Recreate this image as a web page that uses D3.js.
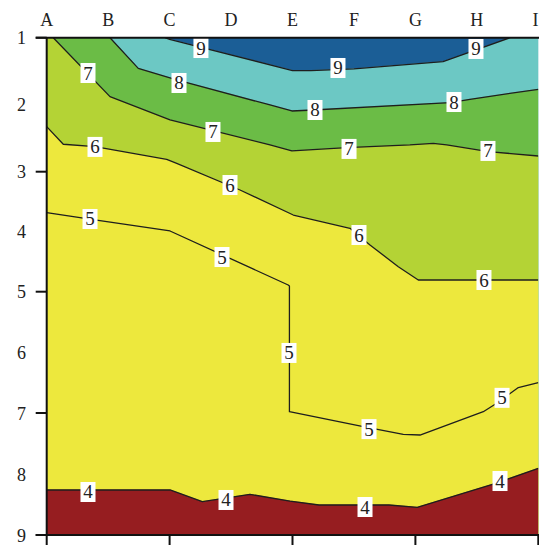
<!DOCTYPE html>
<html>
<head>
<meta charset="utf-8">
<script src="https://cdn.jsdelivr.net/npm/d3@7"></script>
<style>
  html, body { margin: 0; padding: 0; background: #fff; }
  svg { display: block; }
</style>
</head>
<body>
<svg id="chart" width="539" height="545"></svg>
<script>
// ---------- data ----------
const categories = ['A','B','C','D','E','F','G','H','I'];
const yLabels = [1,2,3,4,5,6,7,8,9];
const yTickValues = [1,3,5,7,9];
const xTickCategories = ['A','C','E','G','I'];

// contour lines: [category index (A=0), y value]
const contour9 = [[1.925,1],[2.0,1.024],[4.0,1.49],[4.3,1.49],[5,1.465],[6,1.39],[6.45,1.358],[7.54,1]];
const contour8 = [[1.03,1],[1.49,1.457],[2.115,1.631],[3.634,2.004],[3.99,2.094],[4.334,2.079],[6.563,1.97],[6.888,1.919],[8,1.77]];
const contour7 = [[0.107,1],[1.03,1.88],[2.007,2.228],[3.634,2.60],[3.99,2.69],[4.88,2.64],[5.91,2.60],[6.29,2.576],[6.51,2.60],[7.19,2.70],[8,2.766]];
const contour6 = [[0,2.328],[0.27,2.59],[0.786,2.627],[1.953,2.815],[2.116,2.875],[3.146,3.305],[4.013,3.722],[4.936,3.943],[5.261,4.222],[5.722,4.583],[6.047,4.805],[8,4.805]];
const contour5 = [[0,3.683],[0.867,3.817],[2.007,3.988],[3.93,4.888],[3.95,4.905],[3.95,6.979],[5.152,7.225],[5.803,7.35],[6.075,7.361],[7.105,6.979],[7.323,6.84],[7.675,6.58],[8,6.50]];
const contour4 = [[0,8.262],[2.007,8.262],[2.532,8.454],[3.308,8.333],[3.959,8.443],[4.431,8.508],[5.57,8.508],[6.03,8.546],[7.307,8.152],[8,7.906]];

const levels = [9,8,7,6,5,4];
const contourLines = [contour9, contour8, contour7, contour6, contour5, contour4];
const topColor = '#1b5e96';
const bandColors = ['#6cc8c4','#6bbc46','#b4d335','#ede83d','#ede83d','#961d20'];

// label positions [category index, y value]
const labels9 = [[2.51,1.154],[4.74,1.452],[6.986,1.168]];
const labels8 = [[2.153,1.676],[4.366,2.079],[6.628,1.96]];
const labels7 = [[0.672,1.527],[2.706,2.407],[4.92,2.66],[7.181,2.69]];
const labels6 = [[0.786,2.63],[2.983,3.222],[5.082,4.055],[7.116,4.805]];
const labels5 = [[0.705,3.788],[2.853,4.422],[3.943,6.01],[5.245,7.264],[7.41,6.75]];
const labels4 = [[0.672,8.295],[2.918,8.426],[5.18,8.541],[7.377,8.115]];
const contourLabels = [labels9, labels8, labels7, labels6, labels5, labels4];

(function () {
// ---------- layout ----------
const pL = 46.7, pR = 538.3, pT = 37.7, pB = 535;
const svg = d3.select('#chart');

const xBand = d3.scalePoint().domain(categories).range([pL, pR]);
const x = d3.scaleLinear().domain([0, categories.length - 1]).range([pL, pR]);
const y = d3.scaleLinear().domain([1,3,5,7,9]).range([pT, 171.7, 291.7, 413, pB]);

const defs = svg.append('defs');
defs.append('clipPath').attr('id','plotclip')
  .append('rect').attr('x', pL).attr('y', pT).attr('width', pR-pL).attr('height', pB-pT);

const plot = svg.append('g').attr('clip-path','url(#plotclip)');

plot.append('rect').attr('x', pL).attr('y', pT).attr('width', pR-pL).attr('height', pB-pT)
  .attr('fill', topColor);

const xMax = categories.length - 1, yMin = 1, yMax = 9;
function regionBelow(line) {
  const pts = [];
  const first = line[0], last = line[line.length-1];
  if (first[1] === yMin && first[0] > 0) pts.push([0, yMin]);
  line.forEach(p => pts.push(p));
  if (last[1] === yMin && last[0] < xMax) pts.push([xMax, yMin]);
  pts.push([xMax, yMax]);
  pts.push([0, yMax]);
  return pts;
}

const lineGen = d3.line().x(d => x(d[0])).y(d => y(d[1]));

contourLines.forEach((line, i) => {
  plot.append('path')
    .attr('d', lineGen(regionBelow(line)) + 'Z')
    .attr('fill', bandColors[i])
    .attr('stroke', bandColors[i])
    .attr('stroke-width', 0.5);
});

contourLines.forEach((line) => {
  plot.append('path')
    .attr('d', lineGen(line))
    .attr('fill', 'none')
    .attr('stroke', '#1e1e1e')
    .attr('stroke-width', 1.3)
    .attr('stroke-linejoin', 'round');
});

const fontFam = '"Liberation Serif", "DejaVu Serif", serif';

contourLabels.forEach((arr, i) => {
  arr.forEach(p => {
    const g = plot.append('g').attr('transform', `translate(${x(p[0])},${y(p[1])})`);
    g.append('rect').attr('x', -7.5).attr('y', -10).attr('width', 15).attr('height', 20).attr('fill', '#fff');
    g.append('text').attr('text-anchor','middle').attr('y', 6.5)
      .attr('font-family', fontFam).attr('font-size', 19).attr('fill', '#222')
      .text(levels[i]);
  });
});

// ---------- axes ----------
const axisColor = '#111';
svg.append('line').attr('x1', pL - 11).attr('x2', pR + 1).attr('y1', pT).attr('y2', pT)
  .attr('stroke', axisColor).attr('stroke-width', 2);
svg.append('line').attr('x1', pL).attr('x2', pL).attr('y1', pT).attr('y2', pB)
  .attr('stroke', axisColor).attr('stroke-width', 2);
svg.append('line').attr('x1', pL - 11).attr('x2', pR + 1).attr('y1', pB).attr('y2', pB)
  .attr('stroke', axisColor).attr('stroke-width', 2);

svg.selectAll('.ytick').data(yTickValues).enter().append('line')
  .attr('x1', pL - 11).attr('x2', pL).attr('y1', d => y(d)).attr('y2', d => y(d))
  .attr('stroke', axisColor).attr('stroke-width', 2);
svg.selectAll('.xtick').data(xTickCategories).enter().append('line')
  .attr('x1', d => xBand(d)).attr('x2', d => xBand(d)).attr('y1', pB).attr('y2', pB + 11)
  .attr('stroke', axisColor).attr('stroke-width', 2);

const lastCat = categories[categories.length - 1];
svg.selectAll('.xlab').data(categories).enter().append('text')
  .attr('x', d => d === lastCat ? 538.5 : xBand(d)).attr('y', 26)
  .attr('text-anchor', d => d === lastCat ? 'end' : 'middle')
  .attr('font-family', fontFam).attr('font-size', 18).attr('fill', '#222')
  .text(d => d);

svg.selectAll('.ylab').data(yLabels).enter().append('text')
  .attr('x', 26).attr('y', d => y(d) + 6.5)
  .attr('text-anchor','end')
  .attr('font-family', fontFam).attr('font-size', 18).attr('fill', '#222')
  .text(d => d);
})();
</script>
</body>
</html>
